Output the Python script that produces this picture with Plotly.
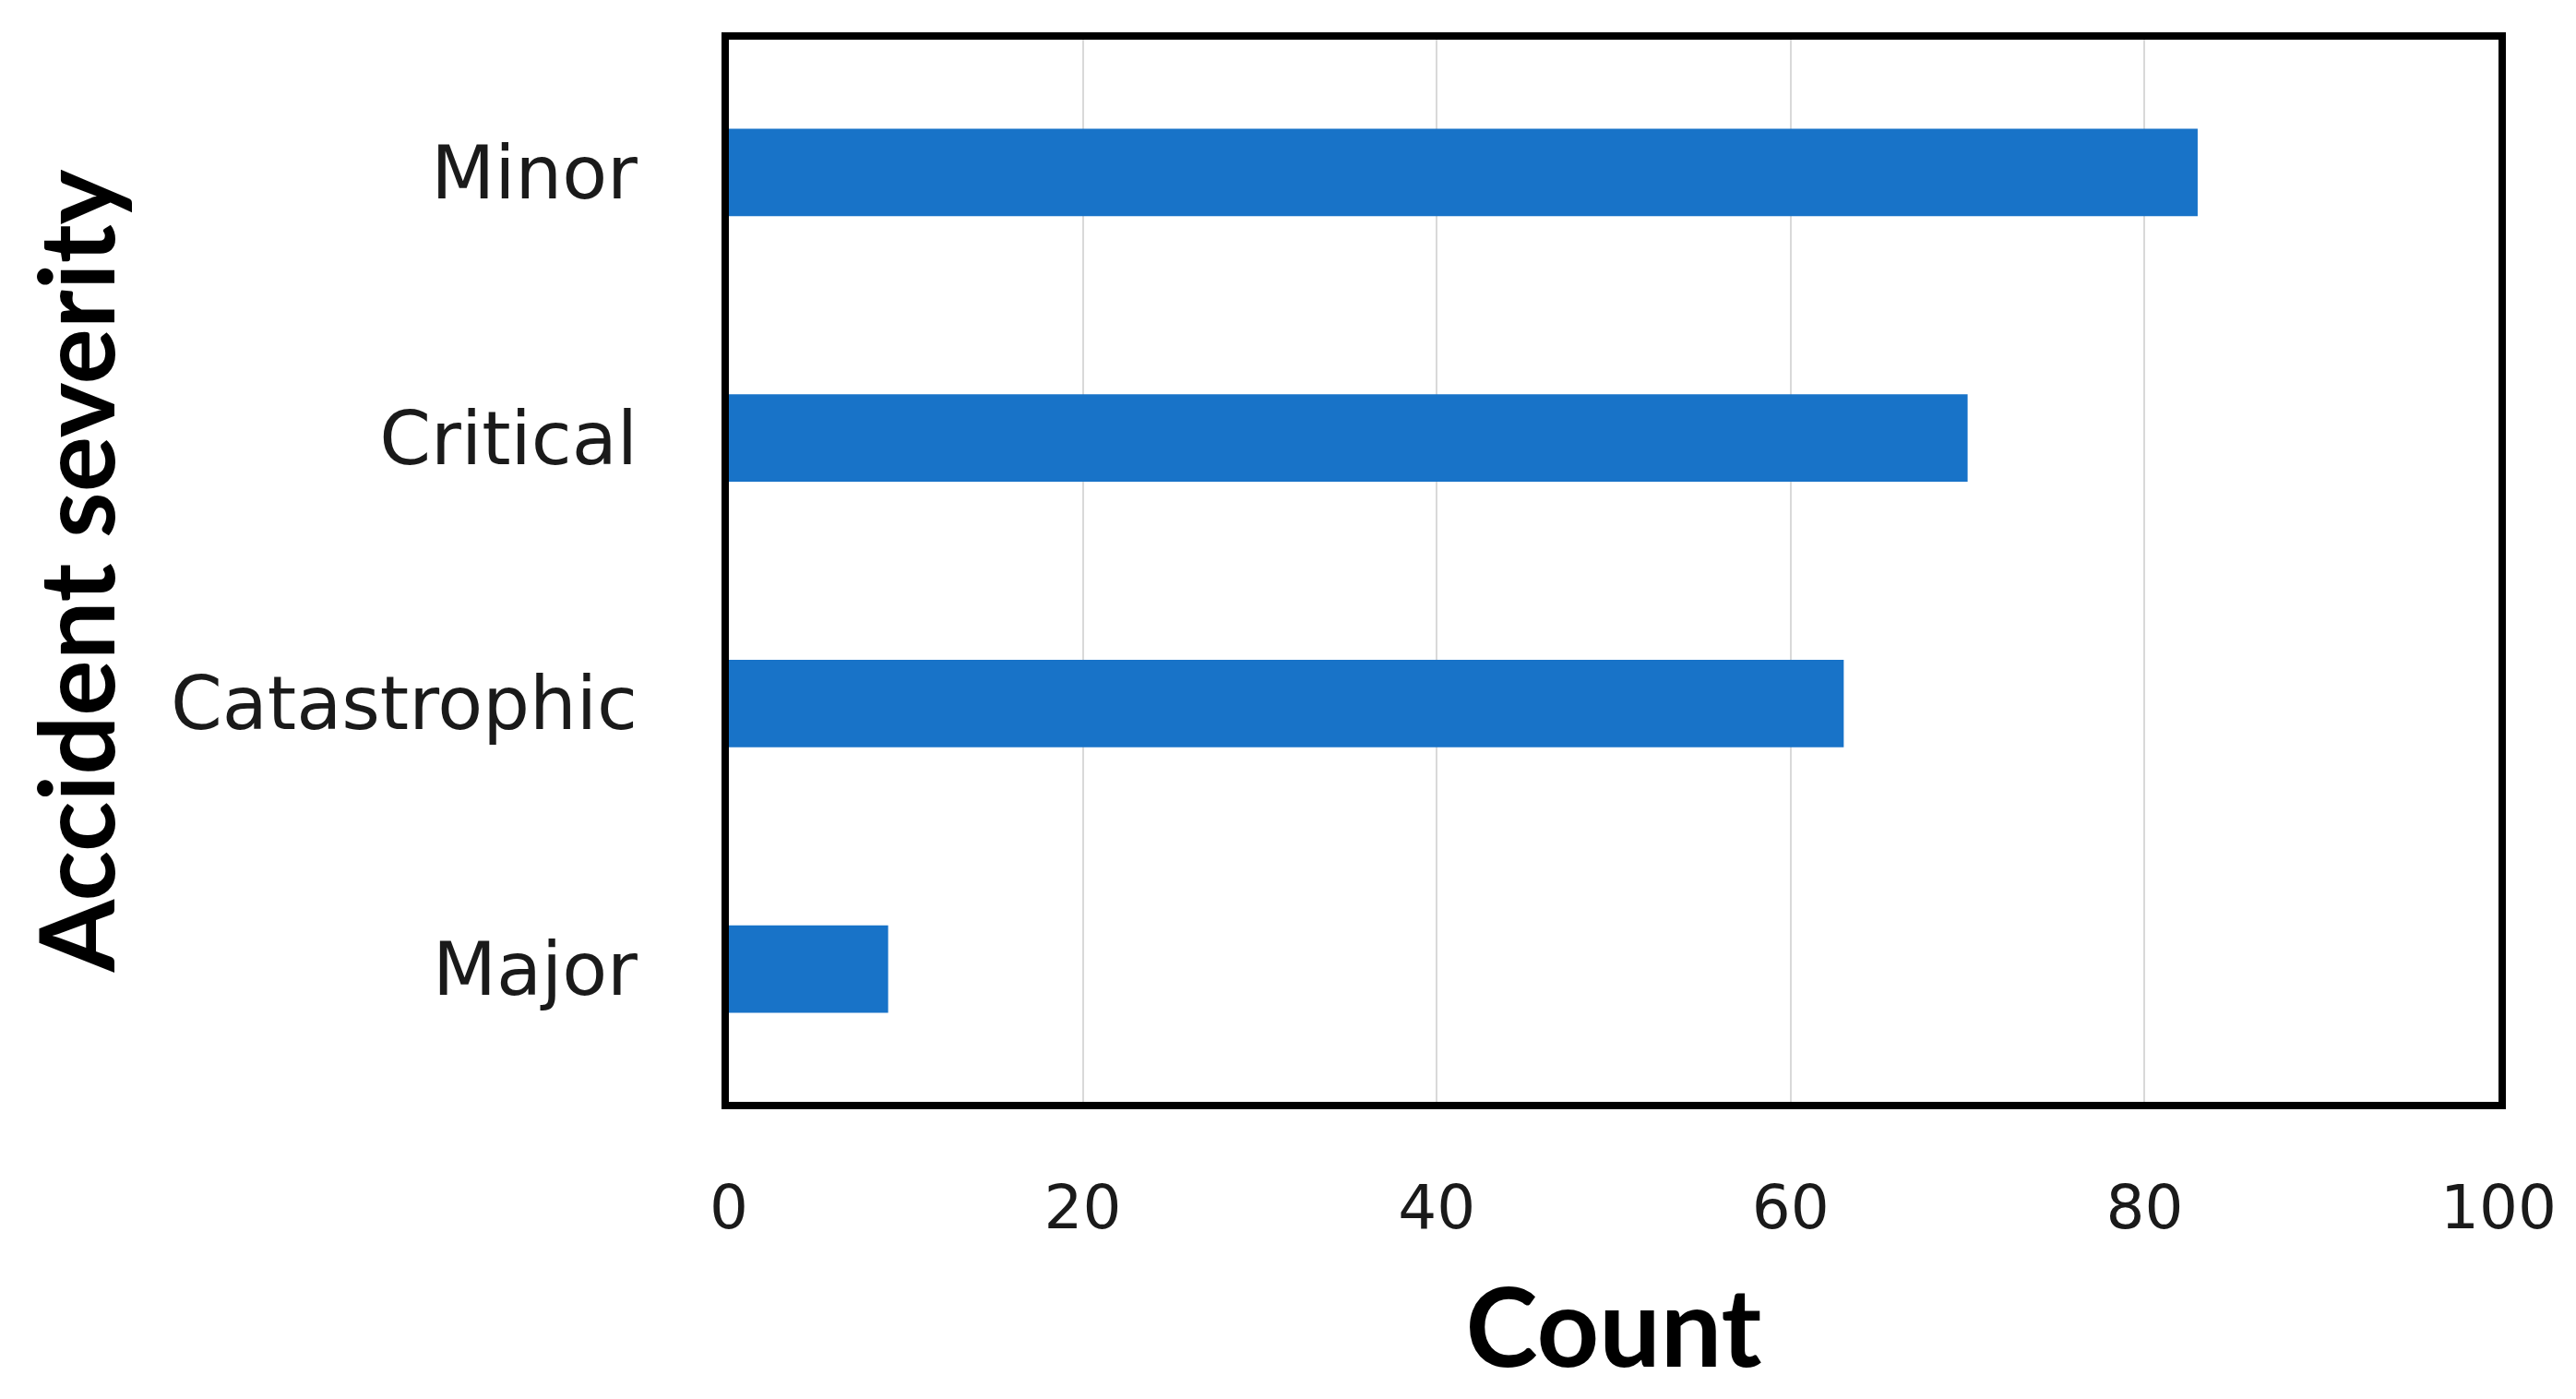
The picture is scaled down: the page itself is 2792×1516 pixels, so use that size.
import plotly.graph_objects as go

categories = ["Minor", "Critical", "Catastrophic", "Major"]
counts = [83, 70, 63, 9]
x_ticks = [0, 20, 40, 60, 80, 100]

bar_color = "#1873C8"

fig = go.Figure(
    go.Bar(
        y=categories,
        x=counts,
        orientation="h",
        marker=dict(color=bar_color, line=dict(width=0)),
        width=0.33,
    )
)

fig.update_layout(
    width=2792,
    height=1516,
    paper_bgcolor="white",
    plot_bgcolor="white",
    margin=dict(l=782, r=92, t=35, b=330),
    showlegend=False,
    font=dict(family="DejaVu Sans", color="#1a1a1a"),
)

fig.update_xaxes(
    range=[0, 100],
    tickvals=x_ticks,
    ticktext=[str(v) for v in x_ticks],
    tickfont=dict(size=66, family="DejaVu Sans", color="#1a1a1a"),
    showgrid=True,
    gridcolor="#D9D9D9",
    gridwidth=2,
    zeroline=False,
    showline=True,
    linecolor="black",
    linewidth=8,
    mirror=True,
    ticks="",
    ticklabelstandoff=50,
    title=dict(
        text="<b>Count</b>",
        font=dict(size=118, family="Lato", color="black"),
        standoff=55,
    ),
)

fig.update_yaxes(
    categoryorder="array",
    categoryarray=list(reversed(categories)),
    tickfont=dict(size=80, family="DejaVu Sans", color="#1a1a1a"),
    showgrid=False,
    zeroline=False,
    showline=True,
    linecolor="black",
    linewidth=8,
    mirror=True,
    ticks="",
    ticklabelstandoff=75,
    title=dict(
        text="<b>Accident severity</b>",
        font=dict(size=113, family="Lato", color="black"),
        standoff=25,
    ),
)

fig.write_html("out.html")
